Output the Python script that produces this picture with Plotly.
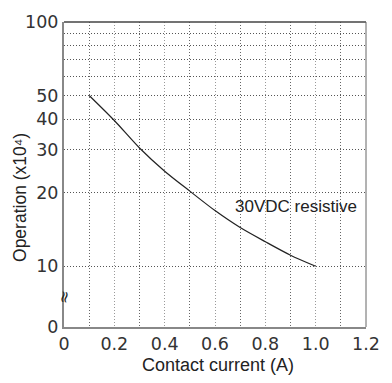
import math
import plotly.graph_objects as go

current_a = [0.1, 0.2, 0.3, 0.4, 0.5, 0.6, 0.7, 0.8, 0.9, 1.0]
operations = [50, 39.5, 30.5, 24.5, 20.3, 16.9, 14.4, 12.6, 11.1, 10]

y_tick_vals = [5.64, 10, 20, 30, 40, 50, 60, 70, 80, 90, 100]
y_tick_text = ["0", "10", "20", "30", "40", "50", "", "", "", "", "100"]
x_tick_vals = [0, 0.2, 0.4, 0.6, 0.8, 1.0, 1.2]
x_tick_text = ["0", "0.2", "0.4", "0.6", "0.8", "1.0", "1.2"]
series_label = "30VDC resistive"
x_title = "Contact current (A)"
y_title = "Operation (x10⁴)"

fig = go.Figure()
fig.add_trace(go.Scatter(x=current_a, y=operations, mode="lines",
                         line=dict(color="#222222", width=1.2, shape="spline", smoothing=0.8),
                         showlegend=False))

fig.update_layout(
    width=392, height=383,
    margin=dict(l=64, r=17, t=16, b=56),
    paper_bgcolor="white", plot_bgcolor="white",
    font=dict(family="Liberation Sans, Arial", color="#222222"),
)
grid_dash = "1px,2px"
fig.update_xaxes(
    range=[0, 1.2], tickvals=x_tick_vals, ticktext=x_tick_text,
    tickfont=dict(family="DejaVu Sans", size=17.5, color="#333333"),
    showgrid=True, gridcolor="#999999", griddash=grid_dash, gridwidth=1,
    minor=dict(dtick=0.1, tick0=0, showgrid=True, gridcolor="#666666", griddash=grid_dash, gridwidth=1),
    showline=True, linecolor="#888888", linewidth=2, mirror=False,
    zeroline=False, ticks="",
)
fig.update_yaxes(
    type="log", range=[math.log10(5.64), 2],
    tickvals=y_tick_vals, ticktext=y_tick_text,
    tickfont=dict(family="DejaVu Sans", size=17.5, color="#333333"),
    showgrid=True, gridcolor="#555555", griddash=grid_dash, gridwidth=1,
    showline=True, linecolor="#888888", linewidth=2,
    zeroline=False, ticks="",
)
# top and right borders
fig.add_shape(type="line", xref="paper", yref="paper", x0=0, x1=1, y0=1, y1=1,
              line=dict(color="#444444", width=1.5))
fig.add_shape(type="line", xref="paper", yref="paper", x0=1, x1=1, y0=0, y1=1,
              line=dict(color="#666666", width=1))

fig.add_annotation(xref="paper", yref="paper", x=0.5085, y=-0.125, text=x_title,
                   showarrow=False, xanchor="center", yanchor="middle",
                   font=dict(size=18, color="#222222"))
fig.add_annotation(xref="paper", yref="paper", x=-0.148, y=0.424, text=y_title,
                   showarrow=False, xanchor="center", yanchor="middle", textangle=-90,
                   font=dict(size=17.5, color="#222222"))
fig.add_annotation(x=0.67, y=math.log10(17.6), text=series_label, showarrow=False,
                   xanchor="left", yanchor="middle", font=dict(size=17, color="#222222"))
fig.add_annotation(xref="paper", x=0, y=math.log10(7.44), text="≈", showarrow=False,
                   xanchor="center", yanchor="middle", textangle=-80,
                   font=dict(family="DejaVu Sans", size=16, color="#222222"))

fig.write_html("out.html")
